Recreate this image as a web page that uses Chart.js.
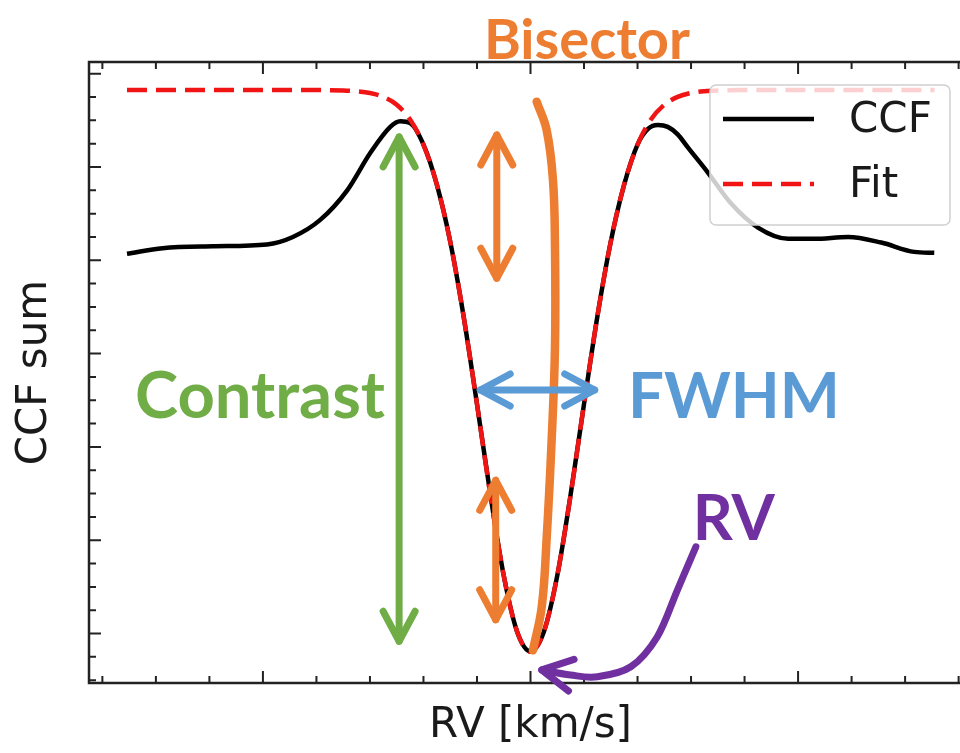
<!DOCTYPE html>
<html><head><meta charset="utf-8">
<script src="https://cdn.jsdelivr.net/npm/chart.js@4.4.1/dist/chart.umd.min.js"></script>
<style>html,body{margin:0;padding:0;overflow:hidden;background:#fff}canvas{display:block}</style>
</head><body>
<canvas id="c" width="980" height="753"></canvas>
<script>
// ---- data (RV in km/s, CCF sum in arbitrary units) ----
const ccfRV  = [-15.08,-13.75,-11.87,-9.85,-8.88,-7.87,-6.85,-5.99,-5.24,-4.87,-4.5,-4.0,-3.5,-3.0,-2.5,-2.0,-1.5,-1.0,-0.5,0,0.5,1.0,1.5,2.0,2.5,3.0,3.5,4.0,4.4,4.76,5.13,5.5,5.88,6.63,7.49,8.5,9.63,10.6,11.87,13.11,14.34,15.09];
const ccfSum = [4.07,4.13,4.15,4.17,4.25,4.43,4.75,5.15,5.43,5.49,5.47,5.24,4.81,4.20,3.40,2.46,1.49,0.62,0.02,-0.19,0.02,0.62,1.49,2.46,3.40,4.20,4.81,5.24,5.41,5.45,5.43,5.35,5.21,4.94,4.61,4.35,4.23,4.23,4.25,4.19,4.09,4.08];
const fitRV  = [-15.08,-12,-10,-8,-7,-6.5,-6,-5.5,-5,-4.5,-4,-3.5,-3,-2.5,-2,-1.5,-1,-0.5,0,0.5,1,1.5,2,2.5,3,3.5,4,4.5,5,5.5,6,6.5,7,8,10,12,15.1];
const fitSum = [5.825,5.825,5.825,5.824,5.82,5.812,5.793,5.751,5.667,5.508,5.238,4.812,4.2,3.399,2.46,1.485,0.62,0.02,-0.195,0.02,0.62,1.485,2.46,3.399,4.2,4.812,5.238,5.508,5.667,5.751,5.793,5.812,5.82,5.824,5.825,5.825,5.825];
const bisectorRV  = [0.23,0.6,0.84,0.915,0.915,0.79,0.6,0.42,0.09];
const bisectorSum = [5.70,5.40,4.86,4.14,3.07,2.07,1.00,0.285,-0.18];
const seriesLabels = ['CCF','Fit'];
const xMajorTicks = [-20,-10,0,10,20];
const xMinorTicks = [-16,-14,-12,-8,-6,-4,-2,2,4,6,8,12,14,16];
const yMajorTicks = [0,1,2,3,4,5,6];
const yMinorTicks = [-0.5,-0.25,0.25,0.5,0.75,1.25,1.5,1.75,2.25,2.5,2.75,3.25,3.5,3.75,4.25,4.5,4.75,5.25,5.5,5.75];
// annotation anchors (data units)
const GREEN='#70ad47', ORANGE='#ed7d31', BLUE='#5b9bd5', PURPLE='#7030a0';
const arrowFrom = [[-4.91,5.36],[-1.26,5.38],[-1.30,1.68],[-2.01,2.61]];
const arrowTo   = [[-4.91,-0.12],[-1.26,3.77],[-1.30,0.11],[2.53,2.61]];
const arrowColors = [GREEN, ORANGE, ORANGE, BLUE];
const rvArrowRV  = [6.18,5.49,4.74,3.75,2.5,1.5,0.42];
const rvArrowSum = [0.93,0.466,-0.034,-0.356,-0.463,-0.445,-0.39];
const noteTexts  = ['Bisector','Contrast','FWHM','RV'];
const noteColors = [ORANGE, GREEN, BLUE, PURPLE];
const noteRV     = [2.11,-10.11,7.60,7.60];
const noteSum    = [6.157,2.31,2.31,1.00];
const noteWidths = [206,250,212,82];

const pts = (xs, ys) => xs.map((x,i)=>({x, y: ys[i]}));
const AXIS = '#222222';

function head(ctx, tx, ty, fx, fy, len, hw){
  const dx=tx-fx, dy=ty-fy, d=Math.hypot(dx,dy), ux=dx/d, uy=dy/d, px=-uy, py=ux;
  const bx=tx-ux*len, by=ty-uy*len;
  ctx.beginPath(); ctx.moveTo(bx+px*hw, by+py*hw); ctx.lineTo(tx,ty); ctx.lineTo(bx-px*hw, by-py*hw); ctx.stroke();
}
function inset(ax, ay, bx, by, r){ const d=Math.hypot(bx-ax,by-ay); return [ax+(bx-ax)/d*r, ay+(by-ay)/d*r]; }

const decor = {
  id: 'decor',
  afterDatasetsDraw(chart){
    const {ctx, chartArea:a, scales:{x, y}} = chart;
    ctx.save();
    // frame + inward ticks on all sides
    ctx.strokeStyle = AXIS; ctx.lineWidth = 2.5;
    ctx.strokeRect(a.left, a.top, a.right-a.left, a.bottom-a.top);
    ctx.lineWidth = 2;
    const tick = (vals, len) => {
      vals.forEach(v => { const p = x.getPixelForValue(v); if (p < a.left || p > a.right) return;
        ctx.beginPath(); ctx.moveTo(p, a.bottom); ctx.lineTo(p, a.bottom-len); ctx.moveTo(p, a.top); ctx.lineTo(p, a.top+len); ctx.stroke(); });
    };
    const ticky = (vals, len) => {
      vals.forEach(v => { const p = y.getPixelForValue(v); if (p < a.top || p > a.bottom) return;
        ctx.beginPath(); ctx.moveTo(a.left, p); ctx.lineTo(a.left+len, p); ctx.moveTo(a.right, p); ctx.lineTo(a.right-len, p); ctx.stroke(); });
    };
    tick(xMajorTicks, 12); tick(xMinorTicks, 7); ticky(yMajorTicks, 12); ticky(yMinorTicks, 7);

    // straight double arrows
    ctx.lineCap = 'round'; ctx.lineJoin = 'round'; ctx.lineWidth = 7;
    arrowFrom.forEach((f,i) => {
      const t = arrowTo[i];
      let x1=x.getPixelForValue(f[0]), y1=y.getPixelForValue(f[1]);
      let x2=x.getPixelForValue(t[0]), y2=y.getPixelForValue(t[1]);
      [x1,y1] = inset(x1,y1,x2,y2,3.5); [x2,y2] = inset(x2,y2,x1,y1,3.5);
      ctx.strokeStyle = arrowColors[i];
      ctx.beginPath(); ctx.moveTo(x1,y1); ctx.lineTo(x2,y2); ctx.stroke();
      head(ctx, x1,y1,x2,y2, 30, 16); head(ctx, x2,y2,x1,y1, 30, 16);
    });
    // curved RV arrow
    const P = rvArrowRV.map((v,i)=>[x.getPixelForValue(v), y.getPixelForValue(rvArrowSum[i])]);
    ctx.strokeStyle = PURPLE;
    ctx.beginPath(); ctx.moveTo(P[0][0], P[0][1]);
    for (let i=0;i<P.length-1;i++){
      const p0=P[Math.max(i-1,0)], p1=P[i], p2=P[i+1], p3=P[Math.min(i+2,P.length-1)];
      ctx.bezierCurveTo(p1[0]+(p2[0]-p0[0])/6, p1[1]+(p2[1]-p0[1])/6, p2[0]-(p3[0]-p1[0])/6, p2[1]-(p3[1]-p1[1])/6, p2[0], p2[1]);
    }
    ctx.stroke();
    const n = P.length;
    head(ctx, P[n-1][0], P[n-1][1], P[n-2][0], P[n-2][1], 30, 16);

    // annotation words
    noteTexts.forEach((s,i) => {
      ctx.font = 'bold 100px Lato';
      const w100 = ctx.measureText(s).width;
      const size = 100*noteWidths[i]/w100;
      ctx.font = `bold ${size.toFixed(1)}px Lato`;
      ctx.fillStyle = noteColors[i]; ctx.textAlign = 'center'; ctx.textBaseline = 'alphabetic';
      ctx.fillText(s, x.getPixelForValue(noteRV[i]), y.getPixelForValue(noteSum[i]));
    });

    // legend (matplotlib style) built from the datasets
    const bx = a.right - 262, by = a.top + 23, bw = 240, bh = 140;
    ctx.beginPath(); ctx.roundRect(bx, by, bw, bh, 6);
    ctx.fillStyle = 'rgba(255,255,255,0.8)'; ctx.fill();
    ctx.strokeStyle = '#d0d0d0'; ctx.lineWidth = 1.5; ctx.stroke();
    ctx.font = '42px "DejaVu Sans"'; ctx.textAlign = 'left'; ctx.textBaseline = 'middle';
    seriesLabels.forEach((lab, k) => {
      const ds = chart.data.datasets.find(d => d.label === lab);
      const ly = by + 34 + k*65;
      ctx.save();
      ctx.strokeStyle = ds.borderColor; ctx.lineWidth = ds.borderWidth; ctx.lineCap = 'butt';
      ctx.setLineDash(ds.borderDash || []);
      ctx.beginPath(); ctx.moveTo(bx+13, ly); ctx.lineTo(bx+104, ly); ctx.stroke();
      ctx.restore();
      ctx.fillStyle = '#1a1a1a';
      ctx.fillText(lab, bx+139, ly+2);
    });
    ctx.restore();
  }
};

new Chart(document.getElementById('c'), {
  type: 'line',
  data: { datasets: [
    { label: 'Bisector', data: pts(bisectorRV, bisectorSum), borderColor: ORANGE, borderWidth: 8.5, pointRadius: 0, tension: 0.4, borderCapStyle: 'round', order: 0 },
    { label: 'Fit', data: pts(fitRV, fitSum), borderColor: '#f01414', borderWidth: 4.5, borderDash: [20,9], pointRadius: 0, cubicInterpolationMode: 'monotone', order: 1 },
    { label: 'CCF', data: pts(ccfRV, ccfSum), borderColor: '#000000', borderWidth: 4.5, pointRadius: 0, cubicInterpolationMode: 'monotone', order: 2 }
  ]},
  options: {
    responsive: false, animation: false, devicePixelRatio: 1,
    layout: { padding: { top: 62, right: 8, left: 0, bottom: 0 } },
    plugins: { legend: { display: false }, tooltip: { enabled: false } },
    scales: {
      x: { type: 'linear', min: -16.5, max: 16.5,
           grid: { display: false, drawTicks: false }, border: { display: false }, ticks: { display: false },
           title: { display: true, text: 'RV [km/s]', color: '#1a1a1a', font: { family: 'DejaVu Sans', size: 42, lineHeight: 1.2 }, padding: { top: 0, bottom: 2 } },
           afterFit: s => { s.height = 70; } },
      y: { type: 'linear', min: -0.53, max: 6.125,
           grid: { display: false, drawTicks: false }, border: { display: false }, ticks: { display: false },
           title: { display: true, text: 'CCF sum', color: '#1a1a1a', font: { family: 'DejaVu Sans', size: 42, lineHeight: 1.2 }, padding: { top: 10, bottom: 0 } },
           afterFit: s => { s.width = 89; } }
    }
  },
  plugins: [decor]
});
</script>
</body></html>
